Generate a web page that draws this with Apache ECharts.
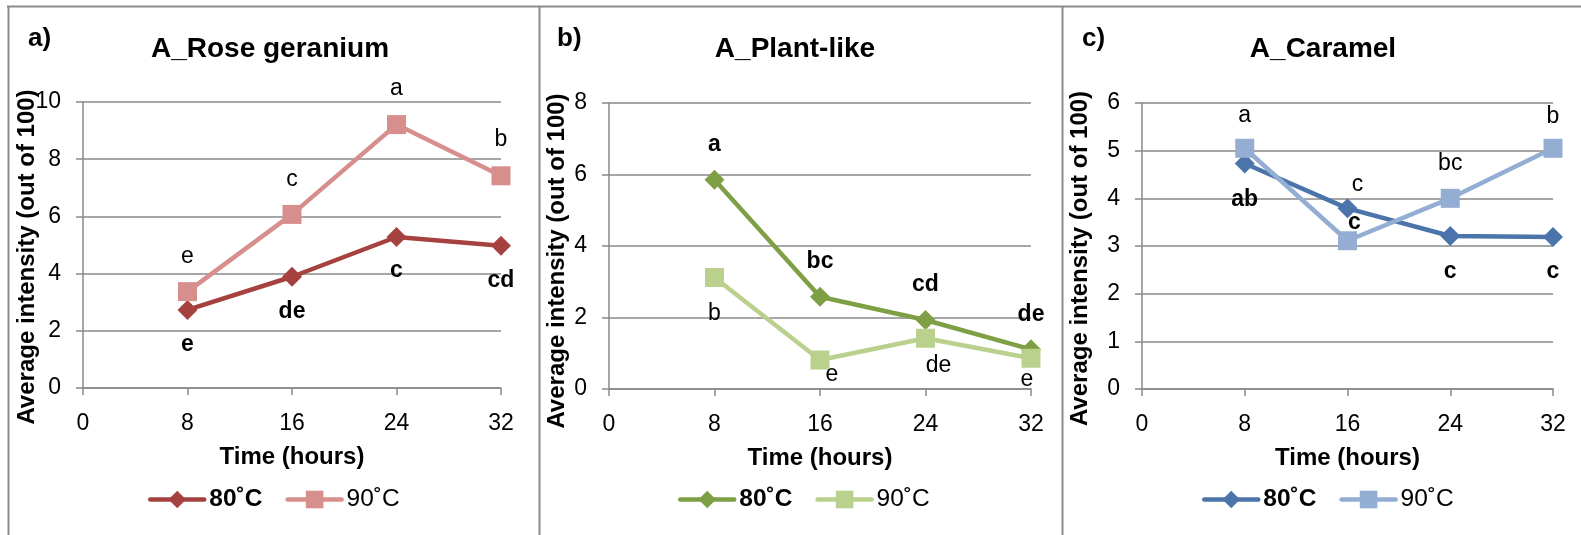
<!DOCTYPE html>
<html>
<head>
<meta charset="utf-8">
<script src="https://cdn.jsdelivr.net/npm/echarts@6/dist/echarts.min.js"></script>
<style>
  html, body { margin: 0; padding: 0; background: #fff; }
  #chart { width: 1581px; height: 535px; }
</style>
</head>
<body>
<div id="chart"></div>
<script>
// ---------------- DATA ----------------
const hours = [8, 16, 24, 32];
const xTickValues = [0, 8, 16, 24, 32];
const panelLetters = ['a)', 'b)', 'c)'];
const panelTitles = ['A_Rose geranium', 'A_Plant-like', 'A_Caramel'];
const seriesNames = ['80˚C', '90˚C'];
const xAxisTitle = 'Time (hours)';
const yAxisTitle = 'Average intensity (out of 100)';

const roseGeranium80 = [2.73, 3.89, 5.28, 4.97];
const roseGeranium90 = [3.37, 6.07, 9.21, 7.42];
const plantLike80 = [5.85, 2.58, 1.93, 1.11];
const plantLike90 = [3.12, 0.81, 1.42, 0.86];
const caramel80 = [4.73, 3.79, 3.21, 3.19];
const caramel90 = [5.05, 3.11, 4.00, 5.05];

const roseGeraniumLetters80 = ['e', 'de', 'c', 'cd'];
const roseGeraniumLetters90 = ['e', 'c', 'a', 'b'];
const plantLikeLetters80 = ['a', 'bc', 'cd', 'de'];
const plantLikeLetters90 = ['b', 'e', 'de', 'e'];
const caramelLetters80 = ['ab', 'c', 'c', 'c'];
const caramelLetters90 = ['a', 'c', 'bc', 'b'];

const yMax = [10, 8, 6];
const yInterval = [2, 2, 1];

// ---------------- LAYOUT / STYLE ----------------
const FONT = '"Liberation Sans", Arial, Helvetica, sans-serif';
const GRAY = '#898989';
const grids = [
  { left: 83, top: 102, width: 418, height: 286 },
  { left: 609, top: 103, width: 422, height: 286 },
  { left: 1142, top: 103, width: 411, height: 286 }
];
const yNameGap = [44, 40, 50];
const yNameShift = [24, 30, 25];
const titleCenters = [270, 795, 1323];
const letterLefts = [28, 557, 1082];
const legendLefts = [148, 678, 1202];
const colors = [
  ['#A5423F', '#D68F8D'],
  ['#7F9F45', '#B9D18D'],
  ['#4A74AA', '#94ADD2']
];
// label offsets [dx, dy] relative to the marker centre
const labelOffsets = [
  [[[0, 35], [0, 35], [0, 34], [0, 35]], [[0, -35], [0, -35], [0, -36], [0, -36]]],
  [[[0, -35], [0, -35], [0, -35], [0, -35]], [[0, 36], [12, 15], [13, 27], [-4, 21]]],
  [[[0, 36], [7, 14], [0, 36], [0, 35]], [[0, -33], [10, -56], [0, -35], [0, -32]]]
];

const panelValues = [
  [roseGeranium80, roseGeranium90],
  [plantLike80, plantLike90],
  [caramel80, caramel90]
];
const panelLabels = [
  [roseGeraniumLetters80, roseGeraniumLetters90],
  [plantLikeLetters80, plantLikeLetters90],
  [caramelLetters80, caramelLetters90]
];

const chart = echarts.init(document.getElementById('chart'), null, { renderer: 'canvas' });

const title = [];
const xAxis = [];
const yAxis = [];
const series = [];
const legend = [];
const legendNameMap = {};

for (let p = 0; p < 3; p++) {
  title.push({
    text: panelLetters[p], left: letterLefts[p], top: 26, padding: 0,
    textStyle: { fontFamily: FONT, fontSize: 26, fontWeight: 'bold', color: '#000' }
  });
  title.push({
    text: panelTitles[p], left: titleCenters[p], top: 35, padding: 0, textAlign: 'center',
    textStyle: { fontFamily: FONT, fontSize: 28, fontWeight: 'bold', color: '#000' }
  });

  xAxis.push({
    type: 'value', gridIndex: p, min: xTickValues[0], max: xTickValues[xTickValues.length - 1],
    interval: xTickValues[1] - xTickValues[0],
    name: xAxisTitle, nameLocation: 'middle', nameGap: 57, nameMoveOverlap: false,
    nameTextStyle: { fontFamily: FONT, fontSize: 24, fontWeight: 'bold', color: '#000' },
    axisLine: { show: true, lineStyle: { color: GRAY, width: 1.5 } },
    axisTick: { show: true, length: 7, lineStyle: { color: GRAY, width: 1.5 } },
    axisLabel: { fontFamily: FONT, fontSize: 23, color: '#000', margin: 24 },
    splitLine: { show: false }
  });
  yAxis.push({
    type: 'value', gridIndex: p, min: 0, max: yMax[p], interval: yInterval[p],
    name: yAxisTitle, nameLocation: 'middle', nameGap: yNameGap[p], nameMoveOverlap: false,
    nameTextStyle: { fontFamily: FONT, fontSize: 24, fontWeight: 'bold', color: '#000', padding: [0, yNameShift[p], 0, 0] },
    axisLine: { show: true, lineStyle: { color: GRAY, width: 1.5 } },
    axisTick: { show: true, length: 7, lineStyle: { color: GRAY, width: 1.5 } },
    axisLabel: { fontFamily: FONT, fontSize: 23, color: '#000', margin: 22 },
    splitLine: { show: true, lineStyle: { color: GRAY, width: 1.5 } }
  });

  const legendData = [];
  for (let s = 0; s < 2; s++) {
    const id = 'p' + p + 's' + s;
    legendNameMap[id] = seriesNames[s];
    const letters = panelLabels[p][s];
    const offs = labelOffsets[p][s];
    const vals = panelValues[p][s];
    series.push({
      name: id,
      type: 'line',
      xAxisIndex: p, yAxisIndex: p,
      symbol: s === 0 ? 'diamond' : 'rect',
      symbolSize: s === 0 ? 20 : 19,
      lineStyle: { color: colors[p][s], width: 4.5, cap: 'round', join: 'round' },
      itemStyle: { color: colors[p][s] },
      emphasis: { disabled: true },
      label: {
        show: true, position: 'inside',
        fontFamily: FONT, fontSize: 23, color: '#000',
        fontWeight: s === 0 ? 'bold' : 'normal',
        formatter: (params) => letters[params.dataIndex]
      },
      data: hours.map((h, i) => ({ value: [h, vals[i]], label: { offset: offs[i] } })),
      z: 2 + s
    });
    legendData.push(s === 0 ? { name: id, textStyle: { fontWeight: 'bold' } } : { name: id });
  }
  legend.push({
    left: legendLefts[p], top: 487, padding: 0,
    itemWidth: 54, itemHeight: 22, itemGap: 23,
    data: legendData,
    formatter: (n) => legendNameMap[n],
    lineStyle: { width: 4.5, cap: 'round' },
    textStyle: { fontFamily: FONT, fontSize: 24.5, color: '#000' },
    selectedMode: false
  });
}

const borderStyle = { stroke: '#8c8c8c', lineWidth: 2 };
const graphic = [
  { type: 'line', shape: { x1: 7, y1: 6.5, x2: 1581, y2: 6.5 }, style: borderStyle, silent: true },
  { type: 'line', shape: { x1: 8.5, y1: 6, x2: 8.5, y2: 535 }, style: borderStyle, silent: true },
  { type: 'line', shape: { x1: 539.5, y1: 6, x2: 539.5, y2: 535 }, style: borderStyle, silent: true },
  { type: 'line', shape: { x1: 1062.5, y1: 6, x2: 1062.5, y2: 535 }, style: borderStyle, silent: true }
];

chart.setOption({
  animation: false,
  backgroundColor: '#fff',
  title, grid: grids, xAxis, yAxis, series, legend, graphic
});
</script>
</body>
</html>
